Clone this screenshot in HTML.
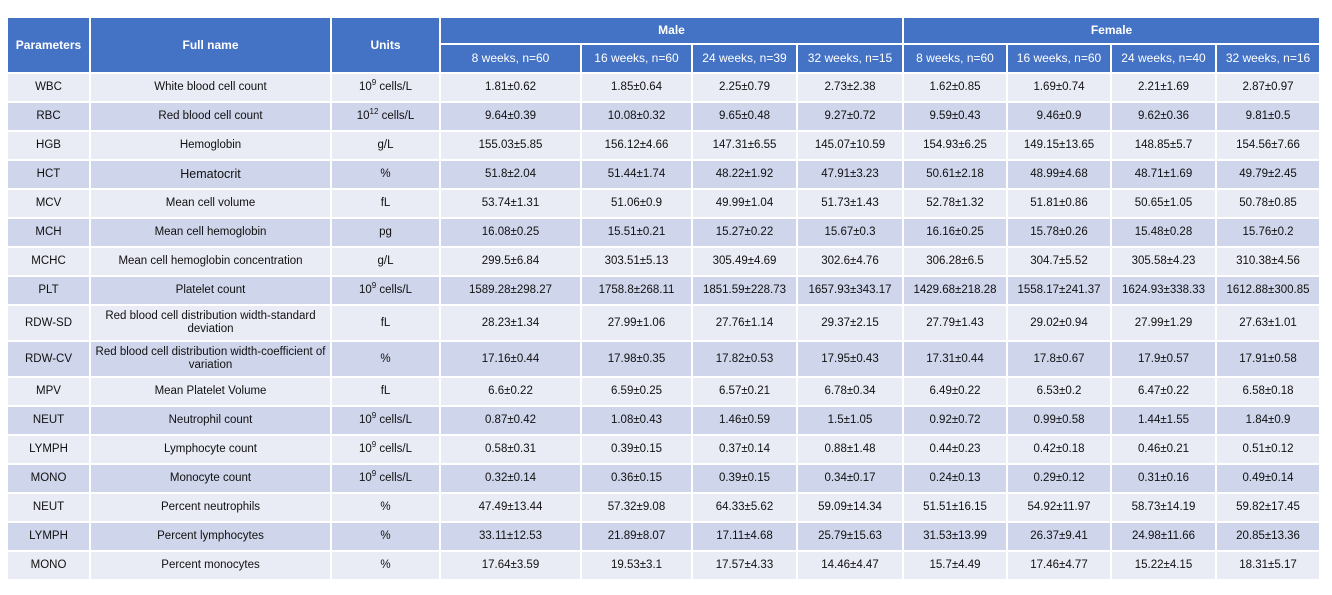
<!DOCTYPE html>
<html><head><meta charset="utf-8"><style>
body{margin:0;background:#fff;width:1332px;height:595px;overflow:hidden;font-family:"Liberation Sans",Arial,sans-serif;}
table{position:absolute;left:6px;top:16px;border-collapse:collapse;table-layout:fixed;width:1313px;}
td,th{border:2px solid #fff;text-align:center;font-size:11.5px;color:#111;padding:0 2px;line-height:13px;}
th{background:#4472C4;color:#fff;font-weight:bold;font-size:12px;}
th.sub{font-weight:normal;}
tr.a td{background:#E9EBF5;}
tr.b td{background:#CFD5EA;}
tbody tr{height:29px;}
tbody tr.t{height:36px;}
sup{font-size:8px;line-height:0;}
</style></head><body>
<table>
<colgroup><col style="width:83px"><col style="width:241px"><col style="width:109px"><col style="width:141px"><col style="width:111px"><col style="width:105px"><col style="width:106px"><col style="width:104px"><col style="width:104px"><col style="width:105px"><col style="width:104px"></colgroup>
<thead>
<tr style="height:27px"><th rowspan="2">Parameters</th><th rowspan="2">Full name</th><th rowspan="2">Units</th><th colspan="4">Male</th><th colspan="4">Female</th></tr>
<tr style="height:29px"><th class="sub">8 weeks, n=60</th><th class="sub">16 weeks, n=60</th><th class="sub">24 weeks, n=39</th><th class="sub">32 weeks, n=15</th><th class="sub">8 weeks, n=60</th><th class="sub">16 weeks, n=60</th><th class="sub">24 weeks, n=40</th><th class="sub">32 weeks, n=16</th></tr>
</thead>
<tbody>
<tr class="a"><td>WBC</td><td>White blood cell count</td><td>10<sup>9</sup> cells/L</td><td>1.81±0.62</td><td>1.85±0.64</td><td>2.25±0.79</td><td>2.73±2.38</td><td>1.62±0.85</td><td>1.69±0.74</td><td>2.21±1.69</td><td>2.87±0.97</td></tr>
<tr class="b"><td>RBC</td><td>Red blood cell count</td><td>10<sup>12</sup> cells/L</td><td>9.64±0.39</td><td>10.08±0.32</td><td>9.65±0.48</td><td>9.27±0.72</td><td>9.59±0.43</td><td>9.46±0.9</td><td>9.62±0.36</td><td>9.81±0.5</td></tr>
<tr class="a"><td>HGB</td><td>Hemoglobin</td><td>g/L</td><td>155.03±5.85</td><td>156.12±4.66</td><td>147.31±6.55</td><td>145.07±10.59</td><td>154.93±6.25</td><td>149.15±13.65</td><td>148.85±5.7</td><td>154.56±7.66</td></tr>
<tr class="b"><td>HCT</td><td style="font-size:12.5px">Hematocrit</td><td>%</td><td>51.8±2.04</td><td>51.44±1.74</td><td>48.22±1.92</td><td>47.91±3.23</td><td>50.61±2.18</td><td>48.99±4.68</td><td>48.71±1.69</td><td>49.79±2.45</td></tr>
<tr class="a"><td>MCV</td><td>Mean cell volume</td><td>fL</td><td>53.74±1.31</td><td>51.06±0.9</td><td>49.99±1.04</td><td>51.73±1.43</td><td>52.78±1.32</td><td>51.81±0.86</td><td>50.65±1.05</td><td>50.78±0.85</td></tr>
<tr class="b"><td>MCH</td><td>Mean cell hemoglobin</td><td>pg</td><td>16.08±0.25</td><td>15.51±0.21</td><td>15.27±0.22</td><td>15.67±0.3</td><td>16.16±0.25</td><td>15.78±0.26</td><td>15.48±0.28</td><td>15.76±0.2</td></tr>
<tr class="a"><td>MCHC</td><td>Mean cell hemoglobin concentration</td><td>g/L</td><td>299.5±6.84</td><td>303.51±5.13</td><td>305.49±4.69</td><td>302.6±4.76</td><td>306.28±6.5</td><td>304.7±5.52</td><td>305.58±4.23</td><td>310.38±4.56</td></tr>
<tr class="b"><td>PLT</td><td>Platelet count</td><td>10<sup>9</sup> cells/L</td><td>1589.28±298.27</td><td>1758.8±268.11</td><td>1851.59±228.73</td><td>1657.93±343.17</td><td>1429.68±218.28</td><td>1558.17±241.37</td><td>1624.93±338.33</td><td>1612.88±300.85</td></tr>
<tr class="a t"><td>RDW-SD</td><td>Red blood cell distribution width-standard deviation</td><td>fL</td><td>28.23±1.34</td><td>27.99±1.06</td><td>27.76±1.14</td><td>29.37±2.15</td><td>27.79±1.43</td><td>29.02±0.94</td><td>27.99±1.29</td><td>27.63±1.01</td></tr>
<tr class="b t"><td>RDW-CV</td><td>Red blood cell distribution width-coefficient of variation</td><td>%</td><td>17.16±0.44</td><td>17.98±0.35</td><td>17.82±0.53</td><td>17.95±0.43</td><td>17.31±0.44</td><td>17.8±0.67</td><td>17.9±0.57</td><td>17.91±0.58</td></tr>
<tr class="a"><td>MPV</td><td>Mean Platelet Volume</td><td>fL</td><td>6.6±0.22</td><td>6.59±0.25</td><td>6.57±0.21</td><td>6.78±0.34</td><td>6.49±0.22</td><td>6.53±0.2</td><td>6.47±0.22</td><td>6.58±0.18</td></tr>
<tr class="b"><td>NEUT</td><td>Neutrophil count</td><td>10<sup>9</sup> cells/L</td><td>0.87±0.42</td><td>1.08±0.43</td><td>1.46±0.59</td><td>1.5±1.05</td><td>0.92±0.72</td><td>0.99±0.58</td><td>1.44±1.55</td><td>1.84±0.9</td></tr>
<tr class="a"><td>LYMPH</td><td>Lymphocyte count</td><td>10<sup>9</sup> cells/L</td><td>0.58±0.31</td><td>0.39±0.15</td><td>0.37±0.14</td><td>0.88±1.48</td><td>0.44±0.23</td><td>0.42±0.18</td><td>0.46±0.21</td><td>0.51±0.12</td></tr>
<tr class="b"><td>MONO</td><td>Monocyte count</td><td>10<sup>9</sup> cells/L</td><td>0.32±0.14</td><td>0.36±0.15</td><td>0.39±0.15</td><td>0.34±0.17</td><td>0.24±0.13</td><td>0.29±0.12</td><td>0.31±0.16</td><td>0.49±0.14</td></tr>
<tr class="a"><td>NEUT</td><td>Percent neutrophils</td><td>%</td><td>47.49±13.44</td><td>57.32±9.08</td><td>64.33±5.62</td><td>59.09±14.34</td><td>51.51±16.15</td><td>54.92±11.97</td><td>58.73±14.19</td><td>59.82±17.45</td></tr>
<tr class="b"><td>LYMPH</td><td>Percent lymphocytes</td><td>%</td><td>33.11±12.53</td><td>21.89±8.07</td><td>17.11±4.68</td><td>25.79±15.63</td><td>31.53±13.99</td><td>26.37±9.41</td><td>24.98±11.66</td><td>20.85±13.36</td></tr>
<tr class="a"><td>MONO</td><td>Percent monocytes</td><td>%</td><td>17.64±3.59</td><td>19.53±3.1</td><td>17.57±4.33</td><td>14.46±4.47</td><td>15.7±4.49</td><td>17.46±4.77</td><td>15.22±4.15</td><td>18.31±5.17</td></tr>
</tbody></table>
</body></html>
